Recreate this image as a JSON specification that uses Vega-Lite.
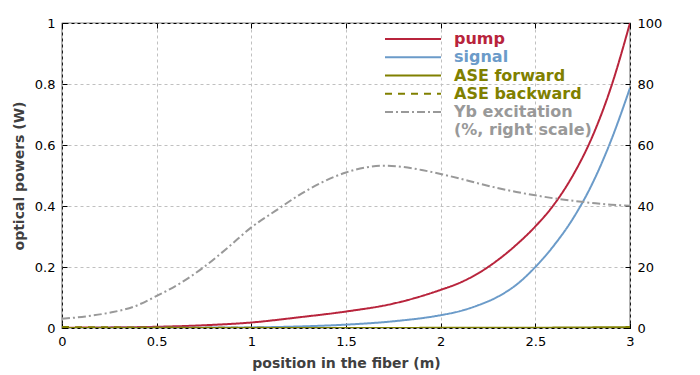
{
  "$schema": "https://vega.github.io/schema/vega-lite/v6.json",
  "width": 568,
  "height": 305,
  "autosize": {"type": "none"},
  "padding": {"left": 62, "top": 23, "right": 70, "bottom": 47},
  "background": "white",
  "config": {
    "view": {"stroke": "#000", "strokeWidth": 1.2},
    "font": "DejaVu Sans",
    "axis": {
      "labelFont": "DejaVu Sans",
      "labelFontSize": 13,
      "labelColor": "#000",
      "labelFlush": false,
      "titleFont": "DejaVu Sans",
      "titleFontSize": 14,
      "titleFontWeight": "bold",
      "titleColor": "#404040",
      "tickColor": "#000",
      "tickSize": -5,
      "labelPadding": 12,
      "domain": false,
      "gridColor": "#c0c0c0",
      "gridDash": [3, 3],
      "gridWidth": 1
    }
  },
  "data": {
    "values": [
      {"x": 0, "series": "pump", "value": 0.001},
      {"x": 0.25, "series": "pump", "value": 0.002},
      {"x": 0.5, "series": "pump", "value": 0.004},
      {"x": 0.75, "series": "pump", "value": 0.009},
      {"x": 1.0, "series": "pump", "value": 0.018},
      {"x": 1.25, "series": "pump", "value": 0.035},
      {"x": 1.5, "series": "pump", "value": 0.054},
      {"x": 1.75, "series": "pump", "value": 0.08},
      {"x": 2.0, "series": "pump", "value": 0.125},
      {"x": 2.1, "series": "pump", "value": 0.148},
      {"x": 2.2, "series": "pump", "value": 0.18},
      {"x": 2.3, "series": "pump", "value": 0.222},
      {"x": 2.4, "series": "pump", "value": 0.273},
      {"x": 2.5, "series": "pump", "value": 0.333},
      {"x": 2.6, "series": "pump", "value": 0.406},
      {"x": 2.7, "series": "pump", "value": 0.502},
      {"x": 2.8, "series": "pump", "value": 0.626},
      {"x": 2.9, "series": "pump", "value": 0.79},
      {"x": 3.0, "series": "pump", "value": 1.0},
      {"x": 0, "series": "signal", "value": 0.0003},
      {"x": 0.5, "series": "signal", "value": 0.0008},
      {"x": 1.0, "series": "signal", "value": 0.002},
      {"x": 1.25, "series": "signal", "value": 0.005},
      {"x": 1.5, "series": "signal", "value": 0.011},
      {"x": 1.75, "series": "signal", "value": 0.022},
      {"x": 2.0, "series": "signal", "value": 0.042},
      {"x": 2.1, "series": "signal", "value": 0.055},
      {"x": 2.2, "series": "signal", "value": 0.075},
      {"x": 2.3, "series": "signal", "value": 0.102},
      {"x": 2.4, "series": "signal", "value": 0.142},
      {"x": 2.5, "series": "signal", "value": 0.2},
      {"x": 2.6, "series": "signal", "value": 0.272},
      {"x": 2.7, "series": "signal", "value": 0.36},
      {"x": 2.8, "series": "signal", "value": 0.472},
      {"x": 2.9, "series": "signal", "value": 0.615},
      {"x": 3.0, "series": "signal", "value": 0.787},
      {"x": 0, "series": "ASE forward", "value": 0},
      {"x": 1.0, "series": "ASE forward", "value": 0},
      {"x": 2.0, "series": "ASE forward", "value": 0.0005},
      {"x": 2.5, "series": "ASE forward", "value": 0.001},
      {"x": 3.0, "series": "ASE forward", "value": 0.003},
      {"x": 0, "series": "ASE backward", "value": 0.003},
      {"x": 0.5, "series": "ASE backward", "value": 0.0015},
      {"x": 1.0, "series": "ASE backward", "value": 0.0005},
      {"x": 2.0, "series": "ASE backward", "value": 0},
      {"x": 3.0, "series": "ASE backward", "value": 0},
      {"x": 0, "series": "Yb excitation", "value": 3.0},
      {"x": 0.125, "series": "Yb excitation", "value": 3.8},
      {"x": 0.25, "series": "Yb excitation", "value": 5.0},
      {"x": 0.375, "series": "Yb excitation", "value": 6.9},
      {"x": 0.5, "series": "Yb excitation", "value": 10.5},
      {"x": 0.625, "series": "Yb excitation", "value": 14.7},
      {"x": 0.75, "series": "Yb excitation", "value": 20.0},
      {"x": 0.875, "series": "Yb excitation", "value": 26.3},
      {"x": 1.0, "series": "Yb excitation", "value": 33.0},
      {"x": 1.125, "series": "Yb excitation", "value": 38.3},
      {"x": 1.25, "series": "Yb excitation", "value": 43.5},
      {"x": 1.375, "series": "Yb excitation", "value": 47.8},
      {"x": 1.5, "series": "Yb excitation", "value": 51.0},
      {"x": 1.6, "series": "Yb excitation", "value": 52.6},
      {"x": 1.7, "series": "Yb excitation", "value": 53.2},
      {"x": 1.8, "series": "Yb excitation", "value": 52.8},
      {"x": 1.9, "series": "Yb excitation", "value": 51.8},
      {"x": 2.0, "series": "Yb excitation", "value": 50.5},
      {"x": 2.1, "series": "Yb excitation", "value": 49.0},
      {"x": 2.2, "series": "Yb excitation", "value": 47.4},
      {"x": 2.3, "series": "Yb excitation", "value": 45.9},
      {"x": 2.4, "series": "Yb excitation", "value": 44.6},
      {"x": 2.5, "series": "Yb excitation", "value": 43.5},
      {"x": 2.6, "series": "Yb excitation", "value": 42.5},
      {"x": 2.7, "series": "Yb excitation", "value": 41.7},
      {"x": 2.8, "series": "Yb excitation", "value": 41.0},
      {"x": 2.9, "series": "Yb excitation", "value": 40.4},
      {"x": 3.0, "series": "Yb excitation", "value": 40.1}
    ]
  },
  "encoding": {
    "color": {
      "field": "series",
      "type": "nominal",
      "scale": {
        "domain": ["pump", "signal", "ASE forward", "ASE backward", "Yb excitation"],
        "range": ["#b8243c", "#6b9bc9", "#808000", "#808000", "#999999"]
      },
      "legend": {
        "orient": "none",
        "legendX": 322,
        "legendY": 8,
        "title": null,
        "symbolType": "stroke",
        "symbolSize": 3136,
        "symbolStrokeWidth": 2,
        "clipHeight": 16,
        "labelOffset": 12,
        "labelFont": "DejaVu Sans",
        "labelFontSize": 16,
        "labelFontWeight": "bold",
        "rowPadding": 2.25,
        "padding": 0,
        "labelLimit": 300,
        "labelExpr": "datum.value == 'Yb excitation' ? ['Yb excitation', '(%, right scale)'] : datum.label",
        "encode": {
          "labels": {"update": {"fill": {"scale": "color", "field": "value"}}}
        }
      }
    },
    "strokeDash": {
      "field": "series",
      "type": "nominal",
      "scale": {
        "domain": ["pump", "signal", "ASE forward", "ASE backward", "Yb excitation"],
        "range": [[1, 0], [1, 0], [1, 0], [7, 6], [8, 3, 2, 3]]
      },
      "legend": null
    }
  },
  "layer": [
    {
      "transform": [{"filter": "datum.series != 'Yb excitation'"}],
      "mark": {"type": "line", "strokeWidth": 2, "interpolate": "monotone", "clip": true},
      "encoding": {
        "x": {
          "field": "x",
          "type": "quantitative",
          "scale": {"domain": [0, 3], "nice": false},
          "axis": {
            "orient": "bottom",
            "values": [0, 0.5, 1, 1.5, 2, 2.5, 3],
            "format": "~g",
            "title": "position in the fiber (m)",
            "titlePadding": 8,
            "grid": true
          }
        },
        "y": {
          "field": "value",
          "type": "quantitative",
          "scale": {"domain": [0, 1], "nice": false},
          "axis": {
            "orient": "left",
            "values": [0, 0.2, 0.4, 0.6, 0.8, 1],
            "format": "~g",
            "title": "optical powers (W)",
            "titlePadding": 8,
            "grid": true
          }
        }
      }
    },
    {
      "transform": [{"filter": "datum.series == 'Yb excitation'"}],
      "mark": {"type": "line", "strokeWidth": 2, "interpolate": "monotone", "clip": true},
      "encoding": {
        "x": {
          "field": "x",
          "type": "quantitative",
          "scale": {"domain": [0, 3], "nice": false},
          "axis": {
            "orient": "top",
            "values": [0, 0.5, 1, 1.5, 2, 2.5, 3],
            "labels": false,
            "title": null,
            "grid": false
          }
        },
        "y": {
          "field": "value",
          "type": "quantitative",
          "scale": {"domain": [0, 100], "nice": false},
          "axis": {
            "orient": "right",
            "values": [0, 20, 40, 60, 80, 100],
            "format": "d",
            "title": null,
            "grid": false
          }
        }
      }
    }
  ],
  "resolve": {"scale": {"y": "independent"}, "axis": {"x": "independent"}}
}
